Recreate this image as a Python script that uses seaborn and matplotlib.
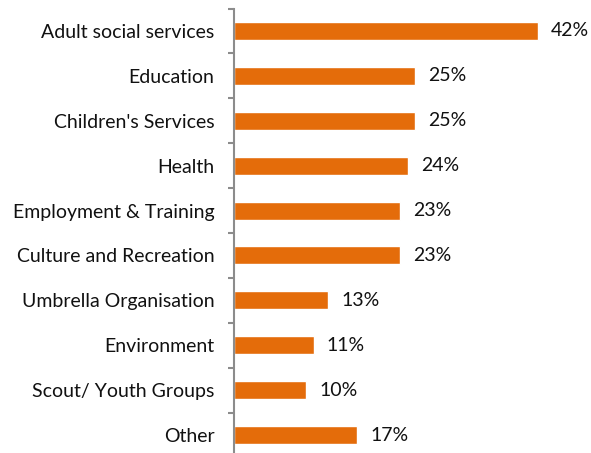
import matplotlib
matplotlib.use("Agg")
import matplotlib.pyplot as plt
import seaborn as sns
import pandas as pd
import numpy as np

categories = ["Adult social services", "Education", "Children's Services", "Health",
              "Employment & Training", "Culture and Recreation", "Umbrella Organisation",
              "Environment", "Scout/ Youth Groups", "Other"]
values = [42, 25, 25, 24, 23, 23, 13, 11, 10, 17]
value_labels = ["42%", "25%", "25%", "24%", "23%", "23%", "13%", "11%", "10%", "17%"]

sns.set_style("white")
plt.rcParams['font.family'] = ['Lato', 'DejaVu Sans']

df = pd.DataFrame({"cat": categories, "val": values})

fig = plt.figure(figsize=(5.91, 4.53), dpi=100)
ax = fig.add_axes([234/591, -4.5/453, 347/591, 449/453])
sns.barplot(data=df, y="cat", x="val", orient="h", color="#E46C0A",
            saturation=1, width=0.4, ax=ax)

ax.set_xlim(0, 48)
ax.set_ylim(len(categories) - 0.5, -0.5)
ax.set_xlabel("")
ax.set_ylabel("")
ax.set_xticks([])
for s in ["top", "right", "bottom"]:
    ax.spines[s].set_visible(False)
ax.spines["left"].set_color("#8C8C8C")
ax.spines["left"].set_linewidth(1.5)

ax.set_yticks(range(len(categories)))
ax.set_yticklabels(categories, fontsize=14, color="#111111")
ax.tick_params(axis="y", which="major", left=True, length=0, pad=14)
ax.set_yticks(np.arange(-0.5, len(categories), 1), minor=True)
ax.tick_params(axis="y", which="minor", left=True, length=4.5, width=1.5,
               color="#8C8C8C", direction="out")

for i, (v, lab) in enumerate(zip(values, value_labels)):
    ax.annotate(lab, xy=(v, i), xytext=(9.5, 0), textcoords="offset points",
                ha="left", va="center", fontsize=14, color="#111111")

fig.savefig("out.png", dpi=100)
